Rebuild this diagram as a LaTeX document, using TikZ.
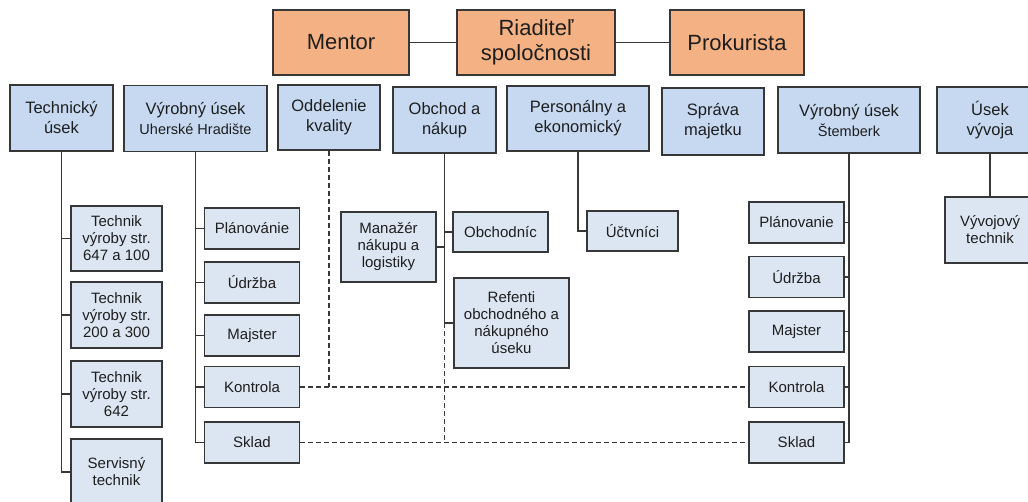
\documentclass[tikz,border=0pt]{standalone}
\usepackage{fontspec}
\setmainfont{Liberation Sans}

\definecolor{orangebox}{RGB}{244,177,131}
\definecolor{bluehead}{RGB}{198,217,241}
\definecolor{bluesub}{RGB}{220,230,242}
\definecolor{edgegray}{RGB}{55,55,55}
\definecolor{ink}{RGB}{30,30,30}

\begin{document}
\begin{tikzpicture}[x=1pt,y=-1pt,
  every node/.style={draw=edgegray,line width=1.2pt,text=ink,align=center,inner sep=0pt},
  boss/.style={fill=orangebox,minimum height=65pt,font=\fontsize{22}{25}\selectfont},
  head/.style={fill=bluehead,minimum width=103pt,minimum height=66pt,font=\fontsize{16.5}{20}\selectfont},
  sub/.style={fill=bluesub,minimum width=95pt,minimum height=41pt,font=\fontsize{15}{17}\selectfont},
  link/.style={draw=edgegray,line width=1.5pt},
  dashlink/.style={link,line width=1.2pt,dash pattern=on 5pt off 3pt}]
  \useasboundingbox (0,0) rectangle (1028,501);

  \node[boss,minimum width=136pt] (mentor) at (341,42.5) {Mentor};
  \node[boss,minimum width=158pt] (riaditel) at (536,42.5) {Riaditeľ\\spoločnosti};
  \node[boss,minimum width=134pt] (prokurista) at (737,42.5) {Prokurista};
  \draw[link] (mentor.east) -- (riaditel.west);
  \draw[link] (riaditel.east) -- (prokurista.west);

  \node[head] (tech) at (61.5,118) {Technický\\úsek};
  \node[head,minimum width=143pt] (vyrUH) at (195.5,118.5)
    {Výrobný úsek\\{\fontsize{14.5}{17}\selectfont Uherské Hradište}};
  \node[head,minimum width=102pt,minimum height=65pt] (kval) at (329,117.5) {Oddelenie\\kvality};
  \node[head] (obchod) at (444.5,120) {Obchod a\\nákup};
  \node[head,minimum width=142pt,minimum height=65pt] (person) at (578,118.5) {Personálny a\\ekonomický};
  \node[head,minimum width=102pt,minimum height=67pt] (sprava) at (713,121.5) {Správa\\majetku};
  \node[head,minimum width=142pt] (vyrSt) at (849,120)
    {Výrobný úsek\\{\fontsize{14.5}{17}\selectfont Štemberk}};
  \node[head,minimum width=106pt] (vyvoj) at (990,120) {Úsek\\vývoja};

  % technicky usek
  \node[sub,minimum width=91pt,minimum height=65pt] (tv1) at (116.5,238.5) {Technik\\výroby str.\\647 a 100};
  \node[sub,minimum width=91pt,minimum height=66pt] (tv2) at (116.5,315) {Technik\\výroby str.\\200 a 300};
  \node[sub,minimum width=91pt,minimum height=66pt] (tv3) at (116.5,394) {Technik\\výroby str.\\642};
  \node[sub,minimum width=91pt,minimum height=66pt] (servis) at (116.5,472) {Servisný\\technik};
  \draw[link] (tech.south) |- (tv1.west);
  \draw[link] (tech.south) |- (tv2.west);
  \draw[link] (tech.south) |- (tv3.west);
  \draw[link] (tech.south) |- (servis.west);

  % vyroba UH
  \node[sub] (plan1) at (252,228.5) {Plánovánie};
  \node[sub] (udr1) at (252,282.5) {Údržba};
  \node[sub] (maj1) at (252,335.5) {Majster};
  \node[sub] (kon1) at (252,387) {Kontrola};
  \node[sub] (skl1) at (252,442.5) {Sklad};
  \draw[link] (vyrUH.south) |- (plan1.west);
  \draw[link] (vyrUH.south) |- (udr1.west);
  \draw[link] (vyrUH.south) |- (maj1.west);
  \draw[link] (vyrUH.south) |- (kon1.west);
  \draw[link] (vyrUH.south) |- (skl1.west);

  % obchod
  \node[sub,minimum height=70pt] (manazer) at (388.5,247) {Manažér\\nákupu a\\logistiky};
  \node[sub,minimum height=40pt] (obchodnik) at (500.5,232) {Obchodníc};
  \node[sub,minimum width=115pt,minimum height=90pt] (refenti) at (511.5,323)
    {Refenti\\obchodného a\\nákupného\\úseku};
  \draw[link] (obchod.south) |- (obchodnik.west);
  \draw[link] (obchod.south) |- (refenti.west);
  \draw[link] (manazer.east) -- (manazer.east -| obchod.south);

  \node[sub,minimum width=91pt,minimum height=40pt] (uct) at (632.5,231) {Účtvníci};
  \draw[link] (person.south) |- (uct.west);

  % vyroba Stemberk
  \node[sub] (plan2) at (796.5,222.5) {Plánovanie};
  \node[sub] (udr2) at (796.5,277) {Údržba};
  \node[sub] (maj2) at (796.5,331.5) {Majster};
  \node[sub] (kon2) at (796.5,387) {Kontrola};
  \node[sub] (skl2) at (796.5,442.5) {Sklad};
  \draw[link] (vyrSt.south) |- (plan2.east);
  \draw[link] (vyrSt.south) |- (udr2.east);
  \draw[link] (vyrSt.south) |- (maj2.east);
  \draw[link] (vyrSt.south) |- (kon2.east);
  \draw[link] (vyrSt.south) |- (skl2.east);

  \node[sub,minimum width=90pt,minimum height=66pt] (vyvtech) at (990,230) {Vývojový\\technik};
  \draw[link] (vyvoj.south) -- (vyvtech.north);

  % kontrola a sklad
  \draw[dashlink] (kon1.east) -- (kon2.west);
  \draw[dashlink] (skl1.east) -- (skl2.west);
  \draw[dashlink] (kval.south) -- (kval.south |- kon1.east);
  \draw[dashlink] (obchod.south |- refenti.west) -- (obchod.south |- skl1.east);
\end{tikzpicture}
\end{document}
